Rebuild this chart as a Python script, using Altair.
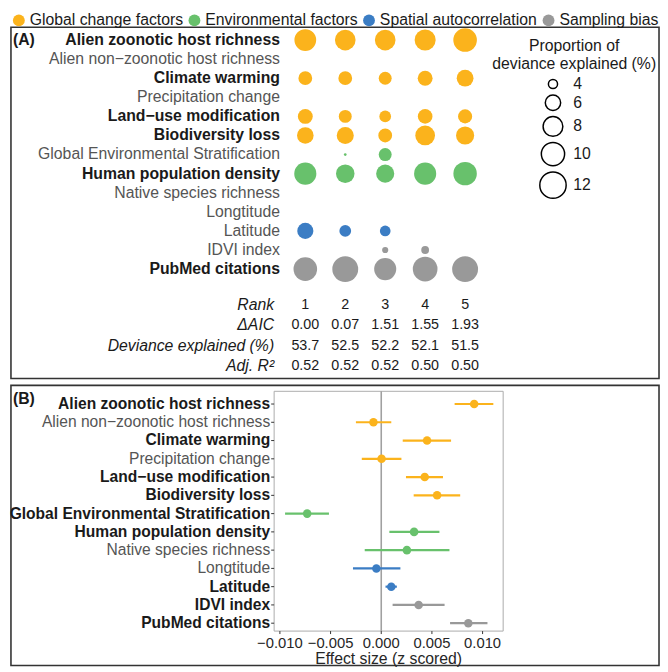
import altair as alt
import pandas as pd

# ---------------- data ----------------
variables = [
    "Alien zoonotic host richness",
    "Alien non\u2212zoonotic host richness",
    "Climate warming",
    "Precipitation change",
    "Land\u2212use modification",
    "Biodiversity loss",
    "Global Environmental Stratification",
    "Human population density",
    "Native species richness",
    "Longtitude",
    "Latitude",
    "IDVI index",
    "PubMed citations",
]
variable_groups = (["Global change factors"] * 6 + ["Environmental factors"] * 3
                   + ["Spatial autocorrelation"] * 2 + ["Sampling bias"] * 2)
group_order = ["Global change factors", "Environmental factors",
               "Spatial autocorrelation", "Sampling bias"]
group_colors = ["#FBB31C", "#68C16C", "#3B7DC4", "#999999"]

bold_a = ["Alien zoonotic host richness", "Climate warming", "Land\u2212use modification",
          "Biodiversity loss", "Human population density", "PubMed citations"]
bold_b = ["Alien zoonotic host richness", "Climate warming", "Land\u2212use modification",
          "Biodiversity loss", "Global Environmental Stratification",
          "Human population density", "Latitude", "IDVI index", "PubMed citations"]

ranks = [1, 2, 3, 4, 5]
# proportion of deviance explained (%) in the five top models (None = not in model)
dev_alien_zoonotic = [9.1, 8.5, 8.5, 8.7, 10.2]
dev_climate = [5.4, 5.4, 5.1, 5.8, 6.6]
dev_landuse = [5.8, 5.1, 4.7, 5.7, 5.5]
dev_biodiversity = [6.5, 6.7, 5.4, 8.0, 7.2]
dev_ges = [None, 3.0, 5.1, None, None]
dev_human = [9.3, 7.4, 7.2, 9.3, 10.1]
dev_latitude = [6.3, 4.7, 4.4, None, None]
dev_idvi = [None, None, 3.4, 3.7, None]
dev_pubmed = [10.2, 11.7, 9.3, 10.9, 11.7]

table_rows = ["Rank", "\u0394AIC", "Deviance explained (%)", "Adj. R\u00b2"]
delta_aic = [0.00, 0.07, 1.51, 1.55, 1.93]
dev_total = [53.7, 52.5, 52.2, 52.1, 51.5]
adj_r2 = [0.52, 0.52, 0.52, 0.50, 0.50]

effect = [0.00917, -0.00077, 0.00452, 0.00003, 0.00429, 0.00551, -0.00731,
          0.00324, 0.00253, -0.00048, 0.00099, 0.00369, 0.00859]
lower = [0.00724, -0.00250, 0.00212, -0.00192, 0.00244, 0.00320, -0.00949,
         0.00080, -0.00163, -0.00279, 0.00042, 0.00112, 0.00679]
upper = [0.01106, 0.00099, 0.00689, 0.00199, 0.00609, 0.00779, -0.00516,
         0.00574, 0.00673, 0.00189, 0.00154, 0.00625, 0.01048]

x_ticks = [-0.010, -0.005, 0.000, 0.005, 0.010]
x_title = "Effect size (z scored)"
size_legend_values = [4, 6, 8, 10, 12]
size_legend_title = "Proportion of\ndeviance explained (%)"
panel_labels = ["(A)", "(B)"]

# ---------------- tables ----------------
dev_by_var = {
    "Alien zoonotic host richness": dev_alien_zoonotic,
    "Climate warming": dev_climate,
    "Land\u2212use modification": dev_landuse,
    "Biodiversity loss": dev_biodiversity,
    "Global Environmental Stratification": dev_ges,
    "Human population density": dev_human,
    "Latitude": dev_latitude,
    "IDVI index": dev_idvi,
    "PubMed citations": dev_pubmed,
}
grp = dict(zip(variables, variable_groups))
rows = []
for v, vals in dev_by_var.items():
    for r, d in zip(ranks, vals):
        if d is not None:
            rows.append({"variable": v, "rank": r, "dev": d, "group": grp[v]})
bubble_df = pd.DataFrame(rows)

label_a_df = pd.DataFrame({"variable": variables})
label_a_df["bold"] = label_a_df["variable"].isin(bold_a)
label_b_df = pd.DataFrame({"variable": variables})
label_b_df["bold"] = label_b_df["variable"].isin(bold_b)

trows = []
for r, a, d, q in zip(ranks, delta_aic, dev_total, adj_r2):
    trows.append({"row": table_rows[0], "rank": r, "txt": f"{r}"})
    trows.append({"row": table_rows[1], "rank": r, "txt": f"{a:.2f}"})
    trows.append({"row": table_rows[2], "rank": r, "txt": f"{d:.1f}"})
    trows.append({"row": table_rows[3], "rank": r, "txt": f"{q:.2f}"})
table_df = pd.DataFrame(trows)
table_lab_df = pd.DataFrame({"row": table_rows})

eff_df = pd.DataFrame({"variable": variables, "effect": effect, "lower": lower,
                       "upper": upper, "group": variable_groups})
tick_df = pd.DataFrame({"tick": x_ticks,
                        "label": [f"{t:.3f}".replace("-", "\u2212") for t in x_ticks]})

# ---------------- styling ----------------
W = 657
HA = 356
HB = 284
FONT = "Liberation Sans"
NARROW = "Liberation Sans Narrow, Liberation Sans"
BLACK = "#1a1a1a"
GREY = "#555555"

color_legend = alt.Legend(orient="none", legendX=0, legendY=-15, direction="horizontal",
                          title=None, labelFontSize=16, labelColor=BLACK,
                          symbolType="circle", symbolSize=144, symbolStrokeWidth=0,
                          symbolOpacity=1, labelOffset=3, columnPadding=3, labelLimit=300)
color_enc = alt.Color("group:N", scale=alt.Scale(domain=group_order, range=group_colors),
                      legend=color_legend)

size_legend = alt.Legend(orient="none", legendX=535, legendY=49.5, title=None,
                         values=size_legend_values, labelFontSize=16, labelColor=BLACK,
                         symbolType="circle", symbolFillColor="transparent",
                         symbolStrokeColor="black", symbolStrokeWidth=1.5,
                         labelOffset=6, rowPadding=0)

xa_scale = alt.Scale(domain=[-6.368, 9.854], nice=False, zero=False)
ya_scale = alt.Scale(type="point", domain=variables, range=[12.9, 245.1], padding=0)
yt_scale = alt.Scale(type="point", domain=table_rows, range=[281.8, 343.3], padding=0)

# ---------------- panel A ----------------
bubbles = alt.Chart(bubble_df).mark_circle(opacity=1).encode(
    x=alt.X("rank:Q", scale=xa_scale, axis=None),
    y=alt.Y("variable:N", scale=ya_scale, axis=None),
    size=alt.Size("dev:Q", scale=alt.Scale(domain=[4, 12], range=[86, 713], zero=False, nice=False),
                  legend=size_legend),
    color=color_enc,
)


def var_labels(df, bold, xpos, xscale, yscale, size, dx):
    base = alt.Chart(df).transform_filter("datum.bold" if bold else "!datum.bold")
    if bold:
        mk = base.mark_text(align="right", baseline="middle", fontSize=size, fontWeight="bold",
                            color=BLACK, dx=dx)
    else:
        mk = base.mark_text(align="right", baseline="middle", fontSize=size, color=GREY, dx=dx)
    return mk.encode(
        x=alt.X(datum=xpos, type="quantitative", scale=xscale, axis=None),
        y=alt.Y("variable:N", scale=yscale, axis=None),
        text="variable:N",
    )


lab_a_bold = var_labels(label_a_df, True, 0.365, xa_scale, ya_scale, 16, 0)
lab_a_norm = var_labels(label_a_df, False, 0.365, xa_scale, ya_scale, 16, 0)

tab_lab = alt.Chart(table_lab_df).mark_text(
    align="right", baseline="middle", fontSize=16, fontStyle="italic", color=BLACK
).encode(
    x=alt.X(datum=0.22, type="quantitative", scale=xa_scale, axis=None),
    y=alt.Y("row:N", scale=yt_scale, axis=None),
    text="row:N",
)
tab_val = alt.Chart(table_df).mark_text(
    align="center", baseline="middle", fontSize=14.5, font=NARROW, color=BLACK
).encode(
    x=alt.X("rank:Q", scale=xa_scale, axis=None),
    y=alt.Y("row:N", scale=yt_scale, axis=None),
    text="txt:N",
)

size_title = alt.Chart(pd.DataFrame({"t": [size_legend_title]})).mark_text(
    align="center", baseline="middle", fontSize=16, lineBreak="\n", lineHeight=19, color=BLACK
).encode(x=alt.value(571), y=alt.value(18.6), text="t:N")

label_a = alt.Chart(pd.DataFrame({"t": [panel_labels[0]]})).mark_text(
    align="left", baseline="middle", fontSize=16, fontWeight="bold", color=BLACK
).encode(x=alt.value(2), y=alt.value(12.9), text="t:N")

panel_a = alt.layer(bubbles, lab_a_bold, lab_a_norm, tab_lab, tab_val, size_title, label_a
                    ).resolve_scale(y="independent").properties(width=W, height=HA)

# ---------------- panel B ----------------
xmin, xmax = -0.01057, 0.01203
tick_len = 0.00029  # ~3 px in data units
xb_scale = alt.Scale(domain=[xmin, xmax], range=[266.8, 499.0], nice=False, zero=False)
yb_scale = alt.Scale(type="point", domain=variables, range=[18.9, 241.1], padding=0)
PLOT_TOP, PLOT_BOTTOM = 6.0, 249.1

frame = alt.Chart(pd.DataFrame({"a": [0]})).mark_rect(
    fillOpacity=0, stroke="#ababab", strokeWidth=1
).encode(
    x=alt.X(datum=xmin, type="quantitative", scale=xb_scale, axis=None),
    x2=alt.X2(datum=xmax),
    y=alt.value(PLOT_TOP), y2=alt.value(PLOT_BOTTOM),
)
zero = alt.Chart(pd.DataFrame({"zero": [0.0]})).mark_rule(color="#a0a0a0", strokeWidth=1.6).encode(
    x=alt.X("zero:Q", scale=xb_scale, axis=None),
    y=alt.value(PLOT_TOP), y2=alt.value(PLOT_BOTTOM),
)
ci = alt.Chart(eff_df).mark_rule(strokeWidth=2.2).encode(
    x=alt.X("lower:Q", scale=xb_scale, axis=None),
    x2="upper:Q",
    y=alt.Y("variable:N", scale=yb_scale, axis=None),
    color=color_enc,
)
pts = alt.Chart(eff_df).mark_circle(size=75, opacity=1).encode(
    x=alt.X("effect:Q", scale=xb_scale, axis=None),
    y=alt.Y("variable:N", scale=yb_scale, axis=None),
    color=color_enc,
)
lab_b_bold = var_labels(label_b_df, True, xmin, xb_scale, yb_scale, 15.8, -4)
lab_b_norm = var_labels(label_b_df, False, xmin, xb_scale, yb_scale, 15.8, -4)
y_ticks = alt.Chart(label_b_df).mark_rule(color="#333333", strokeWidth=1).encode(
    x=alt.X(datum=xmin - tick_len, type="quantitative", scale=xb_scale, axis=None),
    x2=alt.X2(datum=xmin),
    y=alt.Y("variable:N", scale=yb_scale, axis=None),
)
x_tick_marks = alt.Chart(tick_df).mark_rule(color="#333333", strokeWidth=1).encode(
    x=alt.X("tick:Q", scale=xb_scale, axis=None),
    y=alt.value(PLOT_BOTTOM), y2=alt.value(PLOT_BOTTOM + 3),
)
x_tick_labels = alt.Chart(tick_df).mark_text(
    align="center", baseline="middle", fontSize=15, color="#262626"
).encode(
    x=alt.X("tick:Q", scale=xb_scale, axis=None),
    y=alt.value(261.0),
    text="label:N",
)
x_axis_title = alt.Chart(pd.DataFrame({"t": [x_title]})).mark_text(
    align="center", baseline="middle", fontSize=16, color="#262626"
).encode(
    x=alt.X(datum=(xmin + xmax) / 2, type="quantitative", scale=xb_scale, axis=None),
    y=alt.value(277.8),
    text="t:N",
)
label_b = alt.Chart(pd.DataFrame({"t": [panel_labels[1]]})).mark_text(
    align="left", baseline="middle", fontSize=16, fontWeight="bold", color=BLACK
).encode(x=alt.value(2), y=alt.value(13.9), text="t:N")

panel_b = alt.layer(frame, zero, ci, pts, lab_b_bold, lab_b_norm, y_ticks, x_tick_marks,
                    x_tick_labels, x_axis_title, label_b).properties(width=W, height=HB)

chart = alt.vconcat(panel_a, panel_b, spacing=5).properties(padding=0).configure(
    font=FONT
).configure_view(stroke="#333333", strokeWidth=1.6)

chart.save("out.html", embed_options={"renderer": "svg", "actions": False})
